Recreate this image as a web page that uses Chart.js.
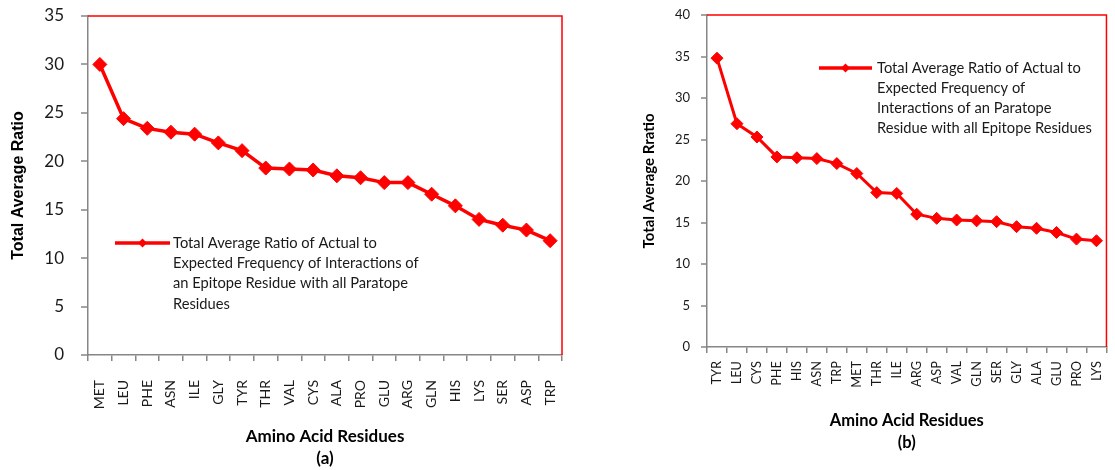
<!DOCTYPE html>
<html><head><meta charset="utf-8">
<script src="https://cdn.jsdelivr.net/npm/chart.js@4/dist/chart.umd.min.js"></script>
<style>
html,body{margin:0;padding:0;background:#fff;overflow:hidden;width:1115px;height:470px;}
#wa{position:absolute;left:0;top:0;width:620px;height:470px;}
#wb{position:absolute;left:630px;top:0;width:490px;height:470px;}
</style></head><body>
<div id="wa"><canvas id="ca" width="620" height="470"></canvas></div>
<div id="wb"><canvas id="cb" width="490" height="470"></canvas></div>
<script>
// ---- data (a) ----
const residuesA = ['MET','LEU','PHE','ASN','ILE','GLY','TYR','THR','VAL','CYS','ALA','PRO','GLU','ARG','GLN','HIS','LYS','SER','ASP','TRP'];
const valuesA   = [30.0, 24.4, 23.4, 23.0, 22.8, 21.9, 21.1, 19.3, 19.2, 19.1, 18.5, 18.3, 17.8, 17.8, 16.6, 15.4, 14.0, 13.4, 12.9, 11.8];
const yTicksA   = [0, 5, 10, 15, 20, 25, 30, 35];
const legendA   = ['Total Average Ratio of Actual to','Expected Frequency of Interactions of','an Epitope Residue with all Paratope','Residues'];
// ---- data (b) ----
const residuesB = ['TYR','LEU','CYS','PHE','HIS','ASN','TRP','MET','THR','ILE','ARG','ASP','VAL','GLN','SER','GLY','ALA','GLU','PRO','LYS'];
const valuesB   = [34.8, 26.9, 25.3, 22.9, 22.8, 22.7, 22.1, 20.9, 18.6, 18.5, 16.0, 15.5, 15.3, 15.2, 15.1, 14.5, 14.3, 13.8, 13.0, 12.8];
const yTicksB   = [0, 5, 10, 15, 20, 25, 30, 35, 40];
const legendB   = ['Total Average Ratio of Actual to','Expected Frequency of','Interactions of an Paratope','Residue with all Epitope Residues'];

const RED = '#FF0000', AXIS = '#868686', FONT = 'Lato';

function framePlugin(markLen){
  return {id:'frame',
    beforeDatasetsDraw(chart){
      const {ctx, chartArea:a} = chart;
      ctx.save(); ctx.strokeStyle = RED; ctx.lineWidth = 1.5;
      ctx.beginPath(); ctx.moveTo(a.left, a.top); ctx.lineTo(a.right, a.top); ctx.lineTo(a.right, a.bottom); ctx.stroke();
      // y-axis tick marks (outside)
      const ys = chart.scales.y;
      ctx.strokeStyle = AXIS; ctx.lineWidth = 1.5; ctx.beginPath();
      ys.ticks.forEach(t => { const p = Math.round(ys.getPixelForValue(t.value)); ctx.moveTo(a.left - markLen, p); ctx.lineTo(a.left, p); });
      ctx.stroke();
      ctx.restore();
    }};
}
function legendPlugin(L){
  return {id:'boxLegend', afterDatasetsDraw(chart){
    const ctx = chart.ctx; ctx.save();
    ctx.strokeStyle = RED; ctx.lineWidth = L.lw;
    ctx.beginPath(); ctx.moveTo(L.x1, L.y); ctx.lineTo(L.x2, L.y); ctx.stroke();
    const cx = (L.x1 + L.x2) / 2, r = L.r;
    ctx.fillStyle = RED; ctx.beginPath();
    ctx.moveTo(cx - r, L.y); ctx.lineTo(cx, L.y - r); ctx.lineTo(cx + r, L.y); ctx.lineTo(cx, L.y + r); ctx.closePath(); ctx.fill();
    ctx.font = L.font; ctx.fillStyle = '#1a1a1a'; ctx.textBaseline = 'middle'; ctx.textAlign = 'left';
    L.lines.forEach((t, i) => ctx.fillText(t, L.tx, L.y + i * L.lh));
    ctx.restore();
  }};
}

function makeChart(id, labels, values, yTicks, c){
  return new Chart(document.getElementById(id), {
    type:'line',
    data:{labels:labels, datasets:[{data:values, borderColor:RED, backgroundColor:RED, borderWidth:c.lw,
      pointStyle:'rectRot', pointRadius:c.pr, pointBorderWidth:1, pointBackgroundColor:RED, pointBorderColor:RED,
      tension:0}]},
    options:{
      responsive:false, animation:false, devicePixelRatio:1,
      layout:{padding:c.pad},
      plugins:{legend:{display:false}, tooltip:{enabled:false}},
      scales:{
        x:{offset:true,
          grid:{offset:true, drawOnChartArea:false, drawTicks:true, tickLength:6, color:AXIS, lineWidth:1.5},
          border:{display:true, color:AXIS, width:1.5},
          ticks:{autoSkip:false, minRotation:90, maxRotation:90, padding:c.xPad, color:'#1a1a1a', font:{family:FONT, size:c.xFont}},
          title:{display:true, text:c.xTitle, color:'#000', font:{family:FONT, size:c.xtFont, weight:'bold', lineHeight:c.xtLH}, padding:{top:0, bottom:c.xtPad}},
          afterFit(s){ s.height = c.xH; }
        },
        y:{min:yTicks[0], max:yTicks[yTicks.length-1],
          grid:{drawOnChartArea:false, drawTicks:true, tickLength:c.yGap, tickColor:'rgba(0,0,0,0)', color:'rgba(0,0,0,0)'},
          border:{display:true, color:AXIS, width:1.5},
          ticks:{stepSize:yTicks[1]-yTicks[0], padding:0, color:'#1a1a1a', font:{family:FONT, size:c.yFont}},
          title:{display:true, text:c.yTitle, color:'#000', font:{family:c.ytFamily, size:c.ytFont, weight:'bold', lineHeight:1.2}, padding:{top:c.ytPad, bottom:0}},
          afterFit(s){ s.width = c.yW; }
        }
      }
    },
    plugins:[framePlugin(c.yTL), legendPlugin(c.legend)]
  });
}

makeChart('ca', residuesA, valuesA, yTicksA, {
  lw:3.5, pr:7, pad:{left:0, top:16, right:58, bottom:0},
  xPad:19, xFont:14, xTitle:['Amino Acid Residues','(a)'], xtFont:17, xtLH:1.3, xtPad:0, xH:115,
  yTL:7, yGap:24, yFont:17, yTitle:'Total Average Ratio', ytFamily:'Liberation Sans', ytFont:16, ytPad:9.4, yW:88,
  legend:{x1:115, x2:170, y:243, tx:173, lh:20.3, r:4.5, lw:3.3, font:'14.7px Lato', lines:legendA}
});
makeChart('cb', residuesB, valuesB, yTicksB, {
  lw:3, pr:6, pad:{left:0, top:15, right:5, bottom:0},
  xPad:8, xFont:12.8, xTitle:['Amino Acid Residues','(b)'], xtFont:16.5, xtLH:1.33, xtPad:16, xH:123,
  yTL:6, yGap:17, yFont:13, yTitle:'Total Average Rratio', ytFamily:FONT, ytFont:15, ytPad:10.5, yW:77,
  legend:{x1:189, x2:242, y:68, tx:247, lh:20, r:4.5, lw:3.3, font:'14.7px Lato', lines:legendB}
});
</script>
</body></html>
